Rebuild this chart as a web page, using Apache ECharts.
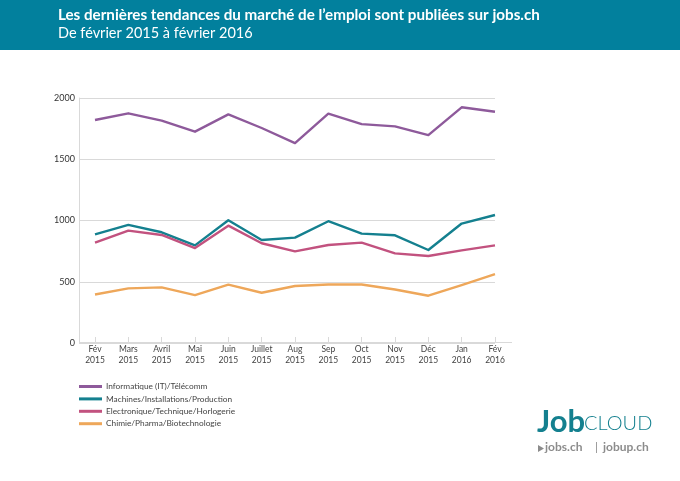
<!DOCTYPE html>
<html>
<head>
<meta charset="utf-8">
<title>jobs.ch</title>
<style>
    html, body {margin: 0; padding: 0; background: #fff;}
    #main {width: 680px; height: 481px;}
</style>
<script src="https://cdn.jsdelivr.net/npm/echarts@6/dist/echarts.min.js"></script>
</head>
<body>
<div id="main"></div>
<script>
    var months = ['Fév\n2015', 'Mars\n2015', 'Avril\n2015', 'Mai\n2015', 'Juin\n2015', 'Juillet\n2015', 'Aug\n2015',
        'Sep\n2015', 'Oct\n2015', 'Nov\n2015', 'Déc\n2015', 'Jan\n2016', 'Fév\n2016'];
    var informatique = [1820, 1875, 1815, 1725, 1866, 1755, 1632, 1872, 1787, 1768, 1697, 1924, 1888];
    var machines = [887, 964, 904, 797, 1002, 841, 860, 994, 893, 879, 759, 975, 1045];
    var electronique = [819, 917, 882, 775, 958, 814, 748, 800, 819, 732, 710, 756, 797];
    var chimie = [396, 446, 454, 391, 476, 410, 465, 478, 478, 437, 386, 473, 563];
    var seriesNames = ['Informatique (IT)/Télécomm', 'Machines/Installations/Production',
        'Electronique/Technique/Horlogerie', 'Chimie/Pharma/Biotechnologie'];
    var seriesColors = ['#8e5a9b', '#14808f', '#c2527f', '#eea75a'];
    var yTicks = [0, 500, 1000, 1500, 2000];

    var fontName = 'Lato';
    var gridLine = '#d9d9d9';

    function lineSeries(index, values) {
        return {
            name: seriesNames[index],
            type: 'line',
            xAxisIndex: 1,
            yAxisIndex: 1,
            data: values,
            symbol: 'none',
            smooth: false,
            lineStyle: {width: 2.4, color: seriesColors[index], join: 'round'},
            itemStyle: {color: seriesColors[index]}
        };
    }

    var myChart = echarts.init(document.getElementById('main'), null, {renderer: 'canvas'});
    var option = {
        animation: false,
        backgroundColor: '#fff',
        textStyle: {fontFamily: fontName},
        // premiere grille: axes et lignes de fond, seconde: les courbes (decalees de la moitie d'un mois)
        grid: [
            {left: 79, right: 185, top: 98, bottom: 138},
            {left: 95, right: 185, top: 98, bottom: 138}
        ],
        xAxis: [
            {
                gridIndex: 0,
                type: 'value',
                min: 0,
                max: 1,
                show: false
            },
            {
                gridIndex: 1,
                type: 'category',
                boundaryGap: false,
                data: months,
                axisLine: {show: false},
                axisTick: {show: true, inside: true, length: 6, lineStyle: {color: gridLine}},
                axisLabel: {
                    interval: 0,
                    hideOverlap: false,
                    color: '#444',
                    fontSize: 8.5,
                    lineHeight: 11,
                    margin: 1
                },
                splitLine: {show: false}
            }
        ],
        yAxis: [
            {
                gridIndex: 0,
                type: 'value',
                min: 0,
                max: yTicks[yTicks.length - 1],
                interval: yTicks[1],
                axisLine: {show: true, lineStyle: {color: gridLine}},
                axisTick: {show: false},
                axisLabel: {
                    color: '#333',
                    fontSize: 9,
                    margin: 4,
                    formatter: function (val) {
                        return String(val);
                    }
                },
                splitLine: {show: true, lineStyle: {color: gridLine, width: 1}}
            },
            {
                gridIndex: 1,
                type: 'value',
                min: 0,
                max: yTicks[yTicks.length - 1],
                interval: yTicks[1],
                show: false
            }
        ],
        legend: {
            orient: 'vertical',
            left: 79,
            top: 382,
            padding: 0,
            itemWidth: 23,
            itemHeight: 3,
            itemGap: 3.4,
            icon: 'rect',
            selectedMode: false,
            data: seriesNames,
            textStyle: {color: '#444', fontSize: 8.3, fontFamily: fontName, padding: [0, 0, 0, -1], lineHeight: 9}
        },
        series: [
            lineSeries(0, informatique),
            lineSeries(1, machines),
            lineSeries(2, electronique),
            lineSeries(3, chimie)
        ],
        graphic: [
            {
                type: 'rect',
                z: -1,
                shape: {x: 0, y: 0, width: 680, height: 50},
                style: {fill: '#02809d'}
            },
            {
                // l'axe des mois depasse le dernier point
                type: 'line',
                shape: {x1: 79, y1: 342.5, x2: 512, y2: 342.5},
                style: {stroke: gridLine, lineWidth: 1}
            },
            {
                type: 'text',
                left: 58,
                top: 8,
                style: {
                    text: 'Les dernières tendances du marché de l’emploi sont publiées sur jobs.ch',
                    fill: '#fff',
                    font: 'bold 15.2px Lato'
                }
            },
            {
                type: 'text',
                left: 58,
                top: 26,
                style: {text: 'De février 2015 à février 2016', fill: '#fff', font: '14.5px Lato'}
            },
            {
                type: 'text',
                left: 537,
                top: 406,
                style: {text: 'Job', fill: '#14808f', font: 'bold 31px Lato'}
            },
            {
                type: 'text',
                left: 584,
                top: 414,
                style: {text: 'CLOUD', fill: '#14808f', font: '300 20px Lato'}
            },
            {
                type: 'polygon',
                shape: {points: [[538, 445], [544, 448.5], [538, 452]]},
                style: {fill: '#8c8c8c'}
            },
            {
                type: 'text',
                left: 545,
                top: 441,
                style: {text: 'jobs.ch', fill: '#8c8c8c', font: 'bold 12px Lato'}
            },
            {
                type: 'text',
                left: 595,
                top: 441,
                style: {text: '|', fill: '#8c8c8c', font: '12px Lato'}
            },
            {
                type: 'text',
                left: 603,
                top: 441,
                style: {text: 'jobup.ch', fill: '#8c8c8c', font: 'bold 12px Lato'}
            }
        ]
    };
    myChart.setOption(option);
    window.onresize = myChart.resize;
</script>
</body>
</html>
